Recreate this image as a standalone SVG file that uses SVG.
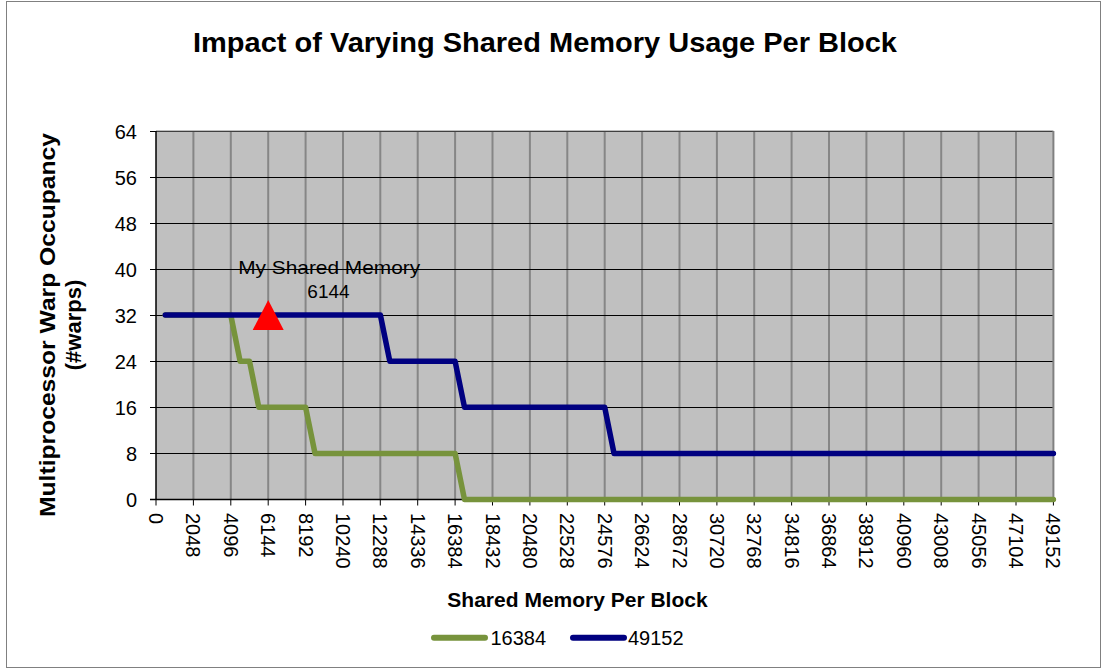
<svg xmlns="http://www.w3.org/2000/svg" width="1104" height="671" viewBox="0 0 1104 671">
<style>
text{font-family:"Liberation Sans",Arial,sans-serif;fill:#000}
.t{font-size:20px}
.b{font-weight:bold}
.hg{stroke:#000;stroke-width:1}
.vg{stroke:#868686;stroke-width:2}
.tk{stroke:#000;stroke-width:1}
.s{fill:none;stroke-width:5.5;stroke-linejoin:round;stroke-linecap:round}
</style>
<rect x="0" y="0" width="1104" height="671" fill="#fff"/>
<rect x="6.5" y="1.5" width="1094" height="666" fill="none" stroke="#808080" stroke-width="1"/>
<g id="title"><text class="b" x="193" y="52" font-size="28" textLength="704" lengthAdjust="spacingAndGlyphs">Impact of Varying Shared Memory Usage Per Block</text></g>
<g id="plot">
<rect x="156" y="131" width="897.4" height="368.5" fill="#C0C0C0"/>
<g id="vgrid">
<line class="vg" x1="193.4" y1="131" x2="193.4" y2="499.5"/><line class="vg" x1="230.8" y1="131" x2="230.8" y2="499.5"/><line class="vg" x1="268.2" y1="131" x2="268.2" y2="499.5"/><line class="vg" x1="305.6" y1="131" x2="305.6" y2="499.5"/><line class="vg" x1="343.0" y1="131" x2="343.0" y2="499.5"/><line class="vg" x1="380.3" y1="131" x2="380.3" y2="499.5"/><line class="vg" x1="417.7" y1="131" x2="417.7" y2="499.5"/><line class="vg" x1="455.1" y1="131" x2="455.1" y2="499.5"/><line class="vg" x1="492.5" y1="131" x2="492.5" y2="499.5"/><line class="vg" x1="529.9" y1="131" x2="529.9" y2="499.5"/><line class="vg" x1="567.3" y1="131" x2="567.3" y2="499.5"/><line class="vg" x1="604.7" y1="131" x2="604.7" y2="499.5"/><line class="vg" x1="642.1" y1="131" x2="642.1" y2="499.5"/><line class="vg" x1="679.5" y1="131" x2="679.5" y2="499.5"/><line class="vg" x1="716.9" y1="131" x2="716.9" y2="499.5"/><line class="vg" x1="754.2" y1="131" x2="754.2" y2="499.5"/><line class="vg" x1="791.6" y1="131" x2="791.6" y2="499.5"/><line class="vg" x1="829.0" y1="131" x2="829.0" y2="499.5"/><line class="vg" x1="866.4" y1="131" x2="866.4" y2="499.5"/><line class="vg" x1="903.8" y1="131" x2="903.8" y2="499.5"/><line class="vg" x1="941.2" y1="131" x2="941.2" y2="499.5"/><line class="vg" x1="978.6" y1="131" x2="978.6" y2="499.5"/><line class="vg" x1="1016.0" y1="131" x2="1016.0" y2="499.5"/>
</g>
<g id="hgrid">
<line class="hg" x1="150" y1="131.5" x2="1053.4" y2="131.5"/><line class="hg" x1="150" y1="177.5" x2="1053.4" y2="177.5"/><line class="hg" x1="150" y1="223.5" x2="1053.4" y2="223.5"/><line class="hg" x1="150" y1="269.5" x2="1053.4" y2="269.5"/><line class="hg" x1="150" y1="315.5" x2="1053.4" y2="315.5"/><line class="hg" x1="150" y1="361.5" x2="1053.4" y2="361.5"/><line class="hg" x1="150" y1="407.5" x2="1053.4" y2="407.5"/><line class="hg" x1="150" y1="453.5" x2="1053.4" y2="453.5"/>
</g>
<line x1="156" y1="131" x2="1053.4" y2="131" stroke="#808080" stroke-width="1"/>
<line x1="1053.4" y1="131" x2="1053.4" y2="499.5" stroke="#808080" stroke-width="2"/>
<line x1="156" y1="131" x2="156" y2="500" stroke="#000" stroke-width="1.5"/>
<line x1="150" y1="499.5" x2="1053.4" y2="499.5" stroke="#000" stroke-width="1.5"/>
<g id="xticks">
<path class="tk" d="M156,499.5v6M193.4,499.5v6M230.8,499.5v6M268.2,499.5v6M305.6,499.5v6M343,499.5v6M380.3,499.5v6M417.7,499.5v6M455.1,499.5v6M492.5,499.5v6M529.9,499.5v6M567.3,499.5v6M604.7,499.5v6M642.1,499.5v6M679.5,499.5v6M716.9,499.5v6M754.2,499.5v6M791.6,499.5v6M829,499.5v6M866.4,499.5v6M903.8,499.5v6M941.2,499.5v6M978.6,499.5v6M1016,499.5v6M1053.4,499.5v6"/>
</g>
</g>
<g id="yaxis-labels" class="t">
<text x="137" y="138.5" text-anchor="end">64</text>
<text x="137" y="184.5" text-anchor="end">56</text>
<text x="137" y="230.5" text-anchor="end">48</text>
<text x="137" y="276.5" text-anchor="end">40</text>
<text x="137" y="322.5" text-anchor="end">32</text>
<text x="137" y="368.5" text-anchor="end">24</text>
<text x="137" y="414.5" text-anchor="end">16</text>
<text x="137" y="460.5" text-anchor="end">8</text>
<text x="137" y="506.5" text-anchor="end">0</text>
</g>
<g id="xaxis-labels" class="t">
<text transform="translate(149,513) rotate(90)">0</text>
<text transform="translate(186.4,513) rotate(90)">2048</text>
<text transform="translate(223.8,513) rotate(90)">4096</text>
<text transform="translate(261.2,513) rotate(90)">6144</text>
<text transform="translate(298.6,513) rotate(90)">8192</text>
<text transform="translate(336,513) rotate(90)">10240</text>
<text transform="translate(373.3,513) rotate(90)">12288</text>
<text transform="translate(410.7,513) rotate(90)">14336</text>
<text transform="translate(448.1,513) rotate(90)">16384</text>
<text transform="translate(485.5,513) rotate(90)">18432</text>
<text transform="translate(522.9,513) rotate(90)">20480</text>
<text transform="translate(560.3,513) rotate(90)">22528</text>
<text transform="translate(597.7,513) rotate(90)">24576</text>
<text transform="translate(635.1,513) rotate(90)">26624</text>
<text transform="translate(672.5,513) rotate(90)">28672</text>
<text transform="translate(709.9,513) rotate(90)">30720</text>
<text transform="translate(747.2,513) rotate(90)">32768</text>
<text transform="translate(784.6,513) rotate(90)">34816</text>
<text transform="translate(822,513) rotate(90)">36864</text>
<text transform="translate(859.4,513) rotate(90)">38912</text>
<text transform="translate(896.8,513) rotate(90)">40960</text>
<text transform="translate(934.2,513) rotate(90)">43008</text>
<text transform="translate(971.6,513) rotate(90)">45056</text>
<text transform="translate(1009,513) rotate(90)">47104</text>
<text transform="translate(1046.4,513) rotate(90)">49152</text>
</g>
<g id="axis-titles">
<text class="b" font-size="22" transform="translate(55,325) rotate(-90)" text-anchor="middle" textLength="384" lengthAdjust="spacingAndGlyphs">Multiprocessor Warp Occupancy</text>
<text class="b" font-size="22" transform="translate(81,325) rotate(-90)" text-anchor="middle">(#warps)</text>
<text class="b" font-size="21" x="577.5" y="606.5" text-anchor="middle">Shared Memory Per Block</text>
</g>
<g id="connectors">
<polyline id="s16384" class="s" stroke="#77933C" points="165.3,315.1 230.8,315.1 240.1,361.2 249.5,361.2 258.8,407.3 305.6,407.3 315,453.4 455.1,453.4 464.5,499.5 1053.4,499.5"/>
<polyline id="s49152" class="s" stroke="#000080" points="165.3,315.1 380.4,315.1 389.8,361.2 455.1,361.2 464.5,407.3 604.7,407.3 614,453.4 1053.4,453.4"/>
</g>
<g id="marker">
<polygon points="268.2,300 252.7,330 283.7,330" fill="#FF0000"/>
</g>
<g id="marker-label" class="t">
<text x="329.2" y="273.5" text-anchor="middle" font-size="19" textLength="182" lengthAdjust="spacingAndGlyphs">My Shared Memory</text>
<text x="328.5" y="298" text-anchor="middle" font-size="19">6144</text>
</g>
<g id="legend">
<line x1="434" y1="637.7" x2="485" y2="637.7" stroke="#77933C" stroke-width="6" stroke-linecap="round"/>
<text class="t" x="490.5" y="645">16384</text>
<line x1="573" y1="637.7" x2="624" y2="637.7" stroke="#000080" stroke-width="6" stroke-linecap="round"/>
<text class="t" x="628" y="645">49152</text>
</g>
</svg>
